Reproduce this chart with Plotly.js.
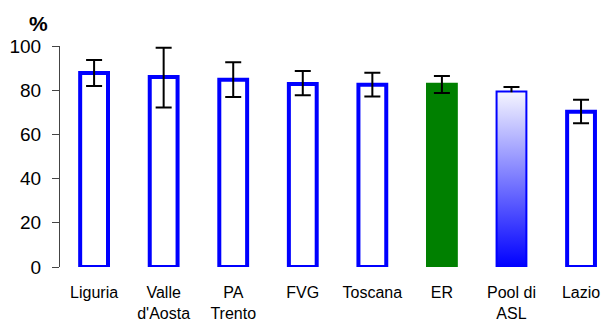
<!DOCTYPE html>
<html>
<head>
<meta charset="utf-8">
<script src="https://cdn.plot.ly/plotly-3.0.1.min.js"></script>
<style>html,body{margin:0;padding:0;background:#fff;}#chart{width:604px;height:325px;}</style>
</head>
<body>
<div id="chart"></div>
<script>
var categories = ["Liguria", "Valle<br>d'Aosta", "PA<br>Trento", "FVG", "Toscana", "ER", "Pool di<br>ASL", "Lazio"];
var values = [87.8, 86.0, 84.7, 82.8, 82.5, 82.5, 79.0, 70.3];
var ciUpper = [93.7, 99.2, 92.7, 88.7, 87.9, 86.4, 81.4, 75.7];
var ciLower = [81.9, 72.2, 76.9, 77.7, 77.2, 78.7, 76.6, 65.0];
var fillColors = ["white", "white", "white", "white", "white", "green", "rgba(0,0,0,0)", "white"];
var lineColors = ["#0000ff", "#0000ff", "#0000ff", "#0000ff", "#0000ff", "green", "#0000ff", "#0000ff"];
var gradientIndex = 6;
var yTicks = [0, 20, 40, 60, 80, 100];

var idx = categories.map(function (_, i) { return i; });
var barWidth = 0.4;
var errPlus = values.map(function (v, i) { return ciUpper[i] - v; });
var errMinus = values.map(function (v, i) { return v - ciLower[i]; });

var g = gradientIndex, hw = barWidth / 2;
var gradTrace = {
  type: 'scatter', mode: 'lines',
  x: [g - hw, g + hw, g + hw, g - hw, g - hw],
  y: [0, 0, values[g], values[g], 0],
  fill: 'toself',
  line: {width: 0, color: 'rgba(0,0,0,0)'},
  fillgradient: {type: 'vertical', colorscale: [[0, '#0000ff'], [1, '#f4f4ff']]},
  hoverinfo: 'skip', showlegend: false
};

var barTrace = {
  type: 'bar',
  x: idx, y: values, width: barWidth,
  marker: {color: fillColors, line: {color: lineColors, width: 4}},
  error_y: {type: 'data', symmetric: false, array: errPlus, arrayminus: errMinus,
            color: 'black', thickness: 2, width: 8},
  showlegend: false
};

var layout = {
  width: 604, height: 325,
  margin: {l: 60, r: 0, t: 46, b: 58},
  paper_bgcolor: 'white', plot_bgcolor: 'white',
  font: {family: 'Liberation Sans, Arial, sans-serif', color: 'black'},
  xaxis: {
    range: [-0.49, 7.33], tickmode: 'array', tickvals: idx, ticktext: categories,
    showgrid: false, zeroline: false, showline: false, ticks: '',
    tickfont: {size: 16}, ticklabelstandoff: 14
  },
  yaxis: {
    range: [0, 100], tickmode: 'array', tickvals: yTicks,
    showgrid: false, zeroline: false, showline: true, linecolor: '#444', linewidth: 1,
    ticks: 'outside', ticklen: 7, tickcolor: '#444',
    tickfont: {size: 19}, ticklabelstandoff: 7
  },
  annotations: [{
    text: '<b>%</b>', xref: 'paper', yref: 'paper', x: 0, y: 1.0,
    xanchor: 'center', yanchor: 'middle', showarrow: false,
    font: {size: 21, color: 'black'}, xshift: -22, yshift: 23
  }]
};

Plotly.newPlot('chart', [gradTrace, barTrace], layout, {displayModeBar: false, staticPlot: true});
</script>
</body>
</html>
